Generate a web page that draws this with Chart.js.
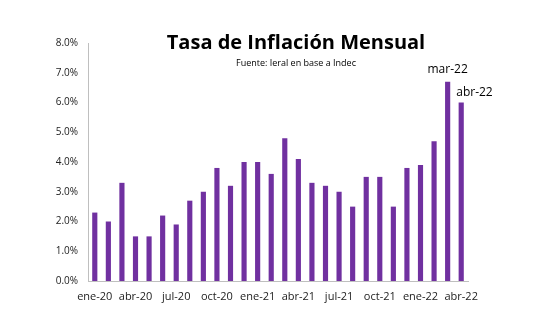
<!DOCTYPE html>
<html>
<head>
<meta charset="utf-8">
<script src="https://cdn.jsdelivr.net/npm/chart.js@4/dist/chart.umd.min.js"></script>
<style>
  html, body { margin: 0; padding: 0; background: #fff; }
  #wrap { width: 542px; height: 332px; }
</style>
</head>
<body>
<div id="wrap"><canvas id="chart"></canvas></div>
<script>
const MONTHS = [
  'ene-20', 'feb-20', 'mar-20', 'abr-20', 'may-20', 'jun-20', 'jul-20', 'ago-20', 'sep-20', 'oct-20', 'nov-20', 'dic-20',
  'ene-21', 'feb-21', 'mar-21', 'abr-21', 'may-21', 'jun-21', 'jul-21', 'ago-21', 'sep-21', 'oct-21', 'nov-21', 'dic-21',
  'ene-22', 'feb-22', 'mar-22', 'abr-22',
];
const INFLATION = [
  2.3, 2.0, 3.3, 1.5, 1.5, 2.2, 1.9, 2.7, 3.0, 3.8, 3.2, 4.0,
  4.0, 3.6, 4.8, 4.1, 3.3, 3.2, 3.0, 2.5, 3.5, 3.5, 2.5, 3.8,
  3.9, 4.7, 6.7, 6.0,
];
const Y_TICKS = [0, 1, 2, 3, 4, 5, 6, 7, 8];
const CALLOUTS = ['mar-22', 'abr-22'];

const TITLE = 'Tasa de Inflación Mensual';
const SUBTITLE = 'Fuente: Ieral en base a Indec';

// title, source line and the two month callouts
const annotations = {
  id: 'annotations',
  afterDraw(chart) {
    const { ctx } = chart;
    const meta = chart.getDatasetMeta(0);
    ctx.save();
    ctx.fillStyle = '#000';
    ctx.textAlign = 'center';
    ctx.textBaseline = 'middle';
    ctx.font = 'bold 20px "Open Sans", sans-serif';
    ctx.fillText(TITLE, 296, 43);
    ctx.font = '9px "Open Sans", sans-serif';
    ctx.fillText(SUBTITLE, 296, 63);

    ctx.font = '12px "Open Sans", sans-serif';
    CALLOUTS.forEach((name, k) => {
      const bar = meta.data[MONTHS.indexOf(name)];
      if (k === 0) {
        ctx.textAlign = 'center';
        ctx.fillText(name, bar.x, bar.y - 12);
      } else {
        ctx.textAlign = 'left';
        ctx.fillText(name, bar.x - 5, bar.y - 10);
      }
    });
    ctx.restore();
  },
};

new Chart(document.getElementById('chart'), {
  type: 'bar',
  data: {
    labels: MONTHS,
    datasets: [{
      data: INFLATION,
      backgroundColor: '#7030a0',
      barPercentage: 0.38,
      categoryPercentage: 1,
    }],
  },
  options: {
    responsive: true,
    maintainAspectRatio: false,
    animation: false,
    layout: { padding: { top: 43, right: 74, bottom: 0, left: 0 } },
    plugins: { legend: { display: false }, tooltip: { enabled: false } },
    scales: {
      x: {
        grid: { display: false, drawTicks: false },
        border: { color: '#bfbfbf' },
        afterFit(scale) { scale.height = 51; },
        ticks: {
          autoSkip: false,
          maxRotation: 0,
          padding: 9,
          color: '#222',
          font: { size: 11, family: '"Open Sans", sans-serif' },
          callback: (v, i) => (i % 3 === 0 ? MONTHS[i] : ''),
        },
      },
      y: {
        min: 0,
        max: 8,
        afterFit(scale) { scale.width = 88; },
        afterBuildTicks(scale) { scale.ticks = Y_TICKS.map(v => ({ value: v })); },
        grid: { display: false, drawTicks: false },
        border: { color: '#bfbfbf' },
        ticks: {
          padding: 10,
          color: '#222',
          font: { size: 10, family: '"Open Sans", sans-serif' },
          callback: v => v.toFixed(1) + '%',
        },
      },
    },
  },
  plugins: [annotations],
});
</script>
</body>
</html>
